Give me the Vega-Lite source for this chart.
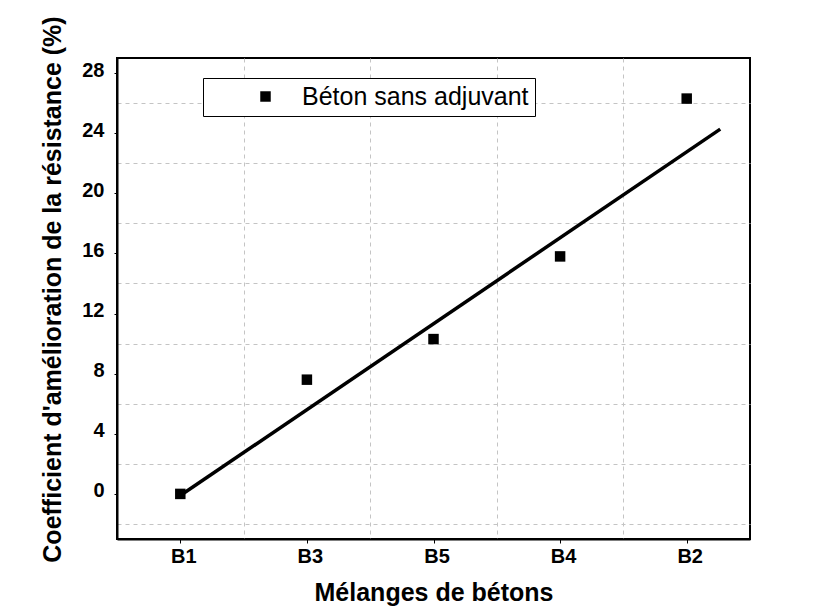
{
  "$schema": "https://vega.github.io/schema/vega-lite/v6.json",
  "width": 633,
  "height": 481,
  "autosize": {"type": "none"},
  "padding": {"left": 117, "top": 58, "right": 71, "bottom": 76},
  "background": "white",
  "config": {
    "view": {"stroke": "black", "strokeWidth": 2},
    "font": "Liberation Sans"
  },
  "layer": [
    {
      "data": {
        "values": [
          {"melange": "B1", "idx": 0, "coef": 0.0, "serie": "Béton sans adjuvant"},
          {"melange": "B3", "idx": 1, "coef": 7.6, "serie": "Béton sans adjuvant"},
          {"melange": "B5", "idx": 2, "coef": 10.3, "serie": "Béton sans adjuvant"},
          {"melange": "B4", "idx": 3, "coef": 15.8, "serie": "Béton sans adjuvant"},
          {"melange": "B2", "idx": 4, "coef": 26.3, "serie": "Béton sans adjuvant"}
        ]
      },
      "mark": {"type": "point", "shape": "square", "filled": true, "size": 110, "opacity": 1},
      "encoding": {
        "x": {
          "field": "idx",
          "type": "quantitative",
          "scale": {"domain": [-0.5, 4.5], "nice": false, "zero": false},
          "axis": {
            "orient": "bottom",
            "values": [0, 1, 2, 3, 4],
            "labelExpr": "['B1','B3','B5','B4','B2'][datum.value]",
            "grid": false,
            "domainColor": "black",
            "domainWidth": 2,
            "tickColor": "black",
            "tickSize": 4,
            "tickWidth": 1,
            "labelFont": "Liberation Sans",
            "labelFontWeight": "bold",
            "labelFontSize": 20,
            "labelColor": "black",
            "labelPadding": 3,
            "labelOffset": 3,
            "title": "Mélanges de bétons",
            "titleFont": "Liberation Sans",
            "titleFontSize": 25,
            "titleFontWeight": "bold",
            "titleColor": "black",
            "titlePadding": 14
          }
        },
        "y": {
          "field": "coef",
          "type": "quantitative",
          "scale": {"domain": [-3, 29], "nice": false, "zero": false},
          "axis": {
            "orient": "left",
            "values": [0, 4, 8, 12, 16, 20, 24, 28],
            "grid": false,
            "domainColor": "black",
            "domainWidth": 2,
            "tickColor": "black",
            "tickSize": 3,
            "tickWidth": 1,
            "labelFont": "Liberation Sans",
            "labelFontWeight": "bold",
            "labelFontSize": 20,
            "labelColor": "black",
            "labelPadding": 10,
            "labelOffset": -3,
            "title": "Coefficient d'amélioration de la résistance (%)",
            "titleFont": "Liberation Sans",
            "titleFontSize": 25,
            "titleFontWeight": "bold",
            "titleColor": "black",
            "titlePadding": 16,
            "titleY": 231
          }
        },
        "color": {
          "field": "serie",
          "type": "nominal",
          "scale": {"range": ["black"]},
          "legend": {
            "orient": "none",
            "legendX": 86,
            "legendY": 20,
            "title": null,
            "strokeColor": "black",
            "fillColor": "white",
            "padding": 6,
            "symbolOffset": 44,
            "symbolType": "square",
            "symbolSize": 110,
            "symbolStrokeWidth": 0,
            "labelFont": "Liberation Sans",
            "labelFontSize": 25,
            "labelColor": "black",
            "labelOffset": 24,
            "labelLimit": 400
          }
        }
      }
    },
    {
      "data": {
        "values": [
          {"idx": 0, "coef": -0.11},
          {"idx": 4.265, "coef": 24.27}
        ]
      },
      "mark": {"type": "line", "color": "black", "strokeWidth": 3.5},
      "encoding": {
        "x": {
          "field": "idx",
          "type": "quantitative",
          "axis": {
            "orient": "bottom",
            "values": [0.5, 1.5, 2.5, 3.5],
            "grid": true,
            "gridColor": "#c4c4c4",
            "gridDash": [4, 4],
            "gridWidth": 1,
            "labels": false,
            "ticks": false,
            "domain": false,
            "title": null
          }
        },
        "y": {
          "field": "coef",
          "type": "quantitative",
          "axis": {
            "orient": "left",
            "values": [-2, 2, 6, 10, 14, 18, 22, 26],
            "grid": true,
            "gridColor": "#c4c4c4",
            "gridDash": [4, 4],
            "gridWidth": 1,
            "labels": false,
            "ticks": false,
            "domain": false,
            "title": null
          }
        }
      }
    }
  ],
  "resolve": {"axis": {"x": "independent", "y": "independent"}}
}
